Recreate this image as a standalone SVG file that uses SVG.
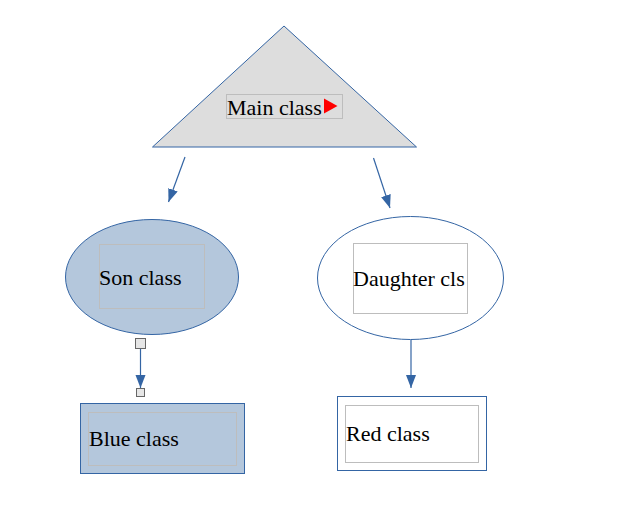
<svg xmlns="http://www.w3.org/2000/svg" width="621" height="524" viewBox="0 0 621 524">
<style>
.shape{stroke:#3465a4;stroke-width:1}
.blue{fill:#b4c7dc}
.white{fill:#ffffff}
.tbox{fill:none;stroke:#bdbdbd;stroke-width:1}
.lbl{font-family:"Liberation Serif","Times New Roman",serif;font-size:22px;fill:#000000}
.conn{stroke:#3465a4;stroke-width:1.2;fill:none;marker-end:url(#ah)}
.handle{fill:#e6e6e6;stroke:#666666;stroke-width:1}
</style>
<defs>
<marker id="ah" markerUnits="userSpaceOnUse" markerWidth="14" markerHeight="12" refX="13" refY="5" orient="auto">
<path d="M0,0 L13,5 L0,10 Z" fill="#3465a4"/>
</marker>
</defs>
<rect width="621" height="524" fill="#ffffff"/>
<g id="main">
<polygon class="shape" points="284,26 152.5,147 416.5,147" fill="#dddddd"/>
<rect class="tbox" x="226.5" y="94.5" width="116" height="24"/>
<text class="lbl" x="227" y="115">Main class</text>
<polygon points="324,98.5 337.5,106 324,113.5" fill="#ff0000"/>
</g>
<g id="connectors">
<line class="conn" x1="185" y1="157" x2="168.5" y2="202"/>
<line class="conn" x1="373.5" y1="158" x2="390" y2="208"/>
<line class="conn" x1="140.5" y1="348" x2="140.5" y2="388"/>
<line class="conn" x1="411" y1="340" x2="411" y2="388"/>
<rect class="handle" x="135.5" y="338.5" width="10" height="10"/>
<rect class="handle" x="136.5" y="388.5" width="8" height="8"/>
</g>
<g id="son">
<ellipse class="shape blue" cx="152" cy="277" rx="86.5" ry="57.5"/>
<rect class="tbox" x="99.5" y="244.5" width="105" height="64" stroke="#a9b6c4"/>
<text class="lbl" x="99" y="285">Son class</text>
</g>
<g id="daughter">
<ellipse class="shape white" cx="410.5" cy="278" rx="93" ry="61.5"/>
<rect class="tbox" x="353.5" y="243.5" width="114" height="70"/>
<text class="lbl" x="353" y="286">Daughter cls</text>
</g>
<g id="blue">
<rect class="shape blue" x="80.5" y="403.5" width="164" height="70"/>
<rect class="tbox" x="88.5" y="412.5" width="148" height="53" stroke="#a9b6c4"/>
<text class="lbl" x="89" y="446">Blue class</text>
</g>
<g id="red">
<rect class="shape white" x="337.5" y="396.5" width="149" height="74"/>
<rect class="tbox" x="345.5" y="405.5" width="133" height="57"/>
<text class="lbl" x="346" y="441">Red class</text>
</g>
</svg>
